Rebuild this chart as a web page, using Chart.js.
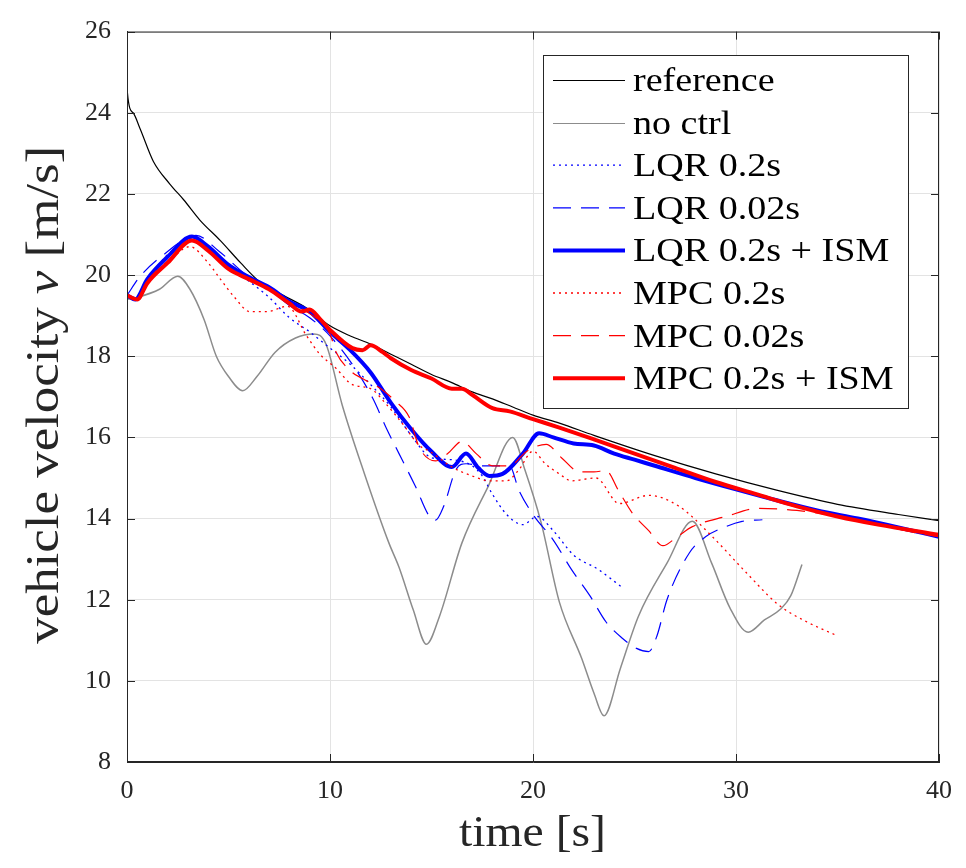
<!DOCTYPE html>
<html>
<head>
<meta charset="utf-8">
<script src="https://cdn.jsdelivr.net/npm/chart.js@4.4.1/dist/chart.umd.min.js"></script>
<style>
html,body{margin:0;padding:0;background:#fff}
#c{display:block}
</style>
</head>
<body>
<canvas id="c" width="966" height="868"></canvas>
<script>
// series labels
const labels = ["reference","no ctrl","LQR 0.2s","LQR 0.02s","LQR 0.2s + ISM","MPC 0.2s","MPC 0.02s","MPC 0.2s + ISM"];

// reference
const tRef = [0,0.02,0.3,0.65,1.3,2.1,2.8,3.6,4.6,5.6,6.5,7.7,8.8,10,11,12,13,14,15,16,17,18,19,20,21.3,23,26,29,32,35,38,40];
const vRef = [25.0,24.5,24.0,23.6,22.8,22.25,21.85,21.35,20.85,20.3,19.85,19.5,19.2,18.75,18.5,18.3,18.05,17.8,17.55,17.35,17.12,16.95,16.75,16.55,16.35,16.05,15.55,15.1,14.7,14.35,14.1,13.95];

// no ctrl
const tNo = [0,0.5,1.6,2.5,3.1,3.8,4.4,5.0,5.7,6.4,7.3,8.3,9.2,9.8,10.6,11.7,12.9,13.4,14.1,14.75,15.4,16.5,17.8,19.0,19.6,20.4,21.3,22.4,23.0,23.5,24.3,25.2,26.6,27.85,28.8,29.7,30.6,31.4,32.2,32.7,33.25];
const vNo = [19.4,19.45,19.65,19.97,19.65,18.9,18.0,17.5,17.15,17.5,18.1,18.45,18.55,18.3,16.8,15.1,13.4,12.8,11.75,10.9,11.6,13.4,14.8,16.0,15.2,13.9,11.94,10.55,9.7,9.14,10.3,11.6,12.9,13.93,12.9,11.8,11.2,11.5,11.77,12.1,12.87];

// LQR 0.2s
const tLqr = [0,0.4,1,2,3.2,4,5,6,7,8,9,10,11,12,13,14,15,16,17,17.5,18,18.7,19.5,20.2,21,22,23.2,24.4];
const vLqr = [19.5,19.45,19.9,20.5,20.9,20.65,20.2,19.85,19.45,18.95,18.6,18.2,17.8,17.3,16.75,16.05,15.5,15.45,15.3,15.05,14.6,14.1,13.85,14.05,13.7,13.1,12.75,12.3];

// LQR 0.02s
const tLqr2 = [0,0.65,1.8,3.4,4.5,6,7,8,9,10,11.1,12.1,12.8,13.4,14.2,14.9,15.2,15.6,16.2,16.7,17.5,18.85,19.3,20,21,21.9,22.8,23.6,24.4,25.1,25.7,26.1,26.6,27.7,28.5,29.5,30.3,31.3];
const vLqr2 = [19.5,19.97,20.5,20.98,20.6,19.95,19.65,19.25,18.95,18.5,17.8,16.97,16.2,15.6,14.8,14.05,13.96,14.3,15.2,15.35,15.3,15.3,14.7,14.1,13.47,12.74,12.1,11.45,11.05,10.8,10.72,11.1,12.0,13.15,13.55,13.8,13.93,13.97];

// LQR 0.2s + ISM
const tLqrIsm = [0,0.4,1,2,3.2,4,5,6,7,8,9,10,11,12,13,14,15,16,16.7,17.3,17.85,18.5,19.5,20.3,21,22,23,24,25,26,28,30,32,34,36,38,40];
const vLqrIsm = [19.5,19.4,19.9,20.45,20.95,20.7,20.25,19.95,19.7,19.35,19.1,18.6,18.15,17.6,16.85,16.2,15.65,15.27,15.6,15.25,15.05,15.1,15.6,16.1,16.0,15.85,15.8,15.6,15.45,15.3,15.0,14.72,14.45,14.2,14.0,13.78,13.55];

// MPC 0.2s
const tMpc = [0,0.5,1,2,3.1,4,4.6,5.3,6.05,6.9,7.9,8.85,9.5,10.3,11.1,12,12.8,13.6,14.4,14.9,16,17,17.85,18.7,19.3,20,20.6,21.3,21.9,23.1,24.25,25.7,27.2,28.8,30.5,32.1,33.5,34.9];
const vMpc = [19.5,19.4,19.8,20.3,20.7,20.3,19.9,19.45,19.1,19.1,19.23,18.5,18.05,17.7,17.3,17.2,16.8,16.32,15.8,15.66,15.27,15.05,14.93,14.93,15.2,15.66,15.35,15.1,14.93,15.0,14.37,14.57,14.3,13.57,12.67,11.87,11.45,11.13];

// MPC 0.02s
const tMpc2 = [0,0.5,1,2,3.2,4,5,6,7,8,9,10,10.3,11.1,11.6,12.5,13.2,13.9,14.4,15.2,15.8,16.5,17.2,18,18.85,19.7,20.65,21.4,22.3,23.0,23.6,24.2,24.9,25.7,26.4,27.1,27.85,29.5,31.1,33,35,37,39.35,40];
const vMpc2 = [19.5,19.4,19.85,20.35,20.85,20.6,20.15,19.9,19.65,19.3,19.05,18.55,18.1,17.6,17.45,17.2,16.9,16.5,15.75,15.42,15.6,15.9,15.6,15.3,15.3,15.66,15.83,15.5,15.15,15.15,15.18,14.7,14.13,13.7,13.33,13.55,13.8,14.05,14.25,14.2,14.05,13.85,13.6,13.55];

// MPC 0.2s + ISM
const tMpcIsm = [0,0.5,1,2,3.2,4,5,6,7,8,8.6,9.0,9.5,10,11.1,11.6,12.0,12.6,13,14,15,16,16.5,17,18,18.85,20,21.3,23,25,27,29,31,33,35,37,40];
const vMpcIsm = [19.5,19.4,19.8,20.3,20.85,20.6,20.15,19.9,19.65,19.3,19.1,19.15,18.92,18.65,18.2,18.15,18.27,18.1,17.95,17.66,17.45,17.2,17.2,17.05,16.72,16.64,16.45,16.24,15.95,15.6,15.25,14.9,14.6,14.3,14.05,13.85,13.6];

const xTicks = [0,10,20,30,40];
const yTicks = [8,10,12,14,16,18,20,22,24,26];

const FONT = "'Liberation Serif', 'DejaVu Serif', serif";
const AXC = "#262626";
const DOT = [2,4];
const DASH = [18,10];

function pts(t, v) { return t.map((x, i) => ({x: x, y: v[i]})); }

const series = [
  {t:tRef, v:vRef, color:"#000000", w:1.2, dash:[]},
  {t:tNo, v:vNo, color:"#8c8c8c", w:1.5, dash:[]},
  {t:tLqr, v:vLqr, color:"#0000ff", w:1.3, dash:DOT},
  {t:tLqr2, v:vLqr2, color:"#0000ff", w:1.2, dash:DASH},
  {t:tLqrIsm, v:vLqrIsm, color:"#0000ff", w:4, dash:[]},
  {t:tMpc, v:vMpc, color:"#ff0000", w:1.3, dash:DOT},
  {t:tMpc2, v:vMpc2, color:"#ff0000", w:1.2, dash:DASH},
  {t:tMpcIsm, v:vMpcIsm, color:"#ff0000", w:4, dash:[]}
];

const datasets = series.map((s, i) => ({
  label: labels[i],
  data: pts(s.t, s.v),
  borderColor: s.color,
  borderWidth: s.w,
  borderDash: s.dash,
  pointRadius: 0,
  fill: false,
  cubicInterpolationMode: "monotone",
  order: series.length - 1 - i
}));

// draws text stretched horizontally (the original uses a wide LaTeX font)
function wideText(ctx, txt, x, y, sx) {
  ctx.save();
  ctx.translate(x, y);
  ctx.scale(sx, 1);
  ctx.fillText(txt, 0, 0);
  ctx.restore();
}

// box, inward ticks, axis titles and legend
const decor = {
  id: "decor",
  afterDraw(chart) {
    const ctx = chart.ctx;
    const a = chart.chartArea;
    const xs = chart.scales.x, ys = chart.scales.y;
    ctx.save();
    ctx.strokeStyle = AXC;
    ctx.lineWidth = 1;
    ctx.setLineDash([]);
    ctx.strokeRect(a.left + 0.5, a.top + 0.5, a.right - a.left - 1, a.bottom - a.top - 1);
    const tl = 8;
    ctx.beginPath();
    xTicks.forEach(v => {
      const px = Math.round(xs.getPixelForValue(v)) + 0.5;
      ctx.moveTo(px, a.bottom); ctx.lineTo(px, a.bottom - tl);
      ctx.moveTo(px, a.top); ctx.lineTo(px, a.top + tl);
    });
    yTicks.forEach(v => {
      const py = Math.round(ys.getPixelForValue(v)) + 0.5;
      ctx.moveTo(a.left, py); ctx.lineTo(a.left + tl, py);
      ctx.moveTo(a.right, py); ctx.lineTo(a.right - tl, py);
    });
    ctx.stroke();

    // x title
    ctx.fillStyle = "#262626";
    ctx.textBaseline = "middle";
    ctx.textAlign = "left";
    ctx.font = "44px " + FONT;
    const xt = "time [s]";
    const xsx = 147 / ctx.measureText(xt).width;
    wideText(ctx, xt, (a.left + a.right) / 2 - 74, 834, xsx);

    // y title with italic v
    ctx.save();
    ctx.translate(46, (a.top + a.bottom) / 2 - 2);
    ctx.rotate(-Math.PI / 2);
    const parts = [["vehicle velocity ", "46px " + FONT], ["v", "italic 46px " + FONT], [" [m/s]", "46px " + FONT]];
    let total = 0;
    parts.forEach(p => { ctx.font = p[1]; total += ctx.measureText(p[0]).width; });
    const ysx = 498 / total;
    ctx.scale(ysx, 1);
    let x0 = -total / 2;
    parts.forEach(p => { ctx.font = p[1]; ctx.fillText(p[0], x0, 0); x0 += ctx.measureText(p[0]).width; });
    ctx.restore();

    // legend
    const lx = 543, ly = 55, lw = 365, lh = 353;
    ctx.fillStyle = "#ffffff";
    ctx.fillRect(lx, ly, lw, lh);
    ctx.strokeStyle = AXC;
    ctx.lineWidth = 1;
    ctx.strokeRect(lx + 0.5, ly + 0.5, lw, lh);
    ctx.font = "34px " + FONT;
    ctx.textAlign = "left";
    ctx.textBaseline = "middle";
    chart.data.datasets.forEach((ds, i) => {
      const yc = 80 + i * 42.6;
      const y = i < 2 ? Math.round(yc) + 0.5 : yc;
      ctx.strokeStyle = ds.borderColor;
      ctx.lineWidth = i < 2 ? 1 : ds.borderWidth;
      ctx.setLineDash(ds.borderDash);
      ctx.beginPath();
      ctx.moveTo(553, y); ctx.lineTo(625, y);
      ctx.stroke();
      ctx.setLineDash([]);
      ctx.fillStyle = "#000000";
      wideText(ctx, ds.label, 633, yc + 2, 1.12);
    });
    ctx.restore();
  }
};

new Chart(document.getElementById("c"), {
  type: "line",
  data: { datasets: datasets },
  options: {
    responsive: false,
    animation: false,
    layout: { padding: { left: 0, top: 22, right: 26, bottom: 0 } },
    plugins: { legend: { display: false }, tooltip: { enabled: false } },
    scales: {
      x: {
        type: "linear",
        min: 0, max: 40,
        afterFit: s => { s.height = 106; },
        afterBuildTicks: s => { s.ticks = xTicks.map(v => ({value: v})); },
        grid: { color: "#e3e3e3", drawTicks: false },
        border: { color: AXC },
        ticks: { color: "#262626", font: { family: FONT, size: 26 }, padding: 14, maxRotation: 0 }
      },
      y: {
        type: "linear",
        min: 8, max: 26,
        afterFit: s => { s.width = 127; },
        afterBuildTicks: s => { s.ticks = yTicks.map(v => ({value: v})); },
        grid: { color: "#e3e3e3", drawTicks: false },
        border: { color: AXC },
        ticks: { color: "#262626", font: { family: FONT, size: 26 }, padding: 16 }
      }
    }
  },
  plugins: [decor]
});
</script>
</body>
</html>
